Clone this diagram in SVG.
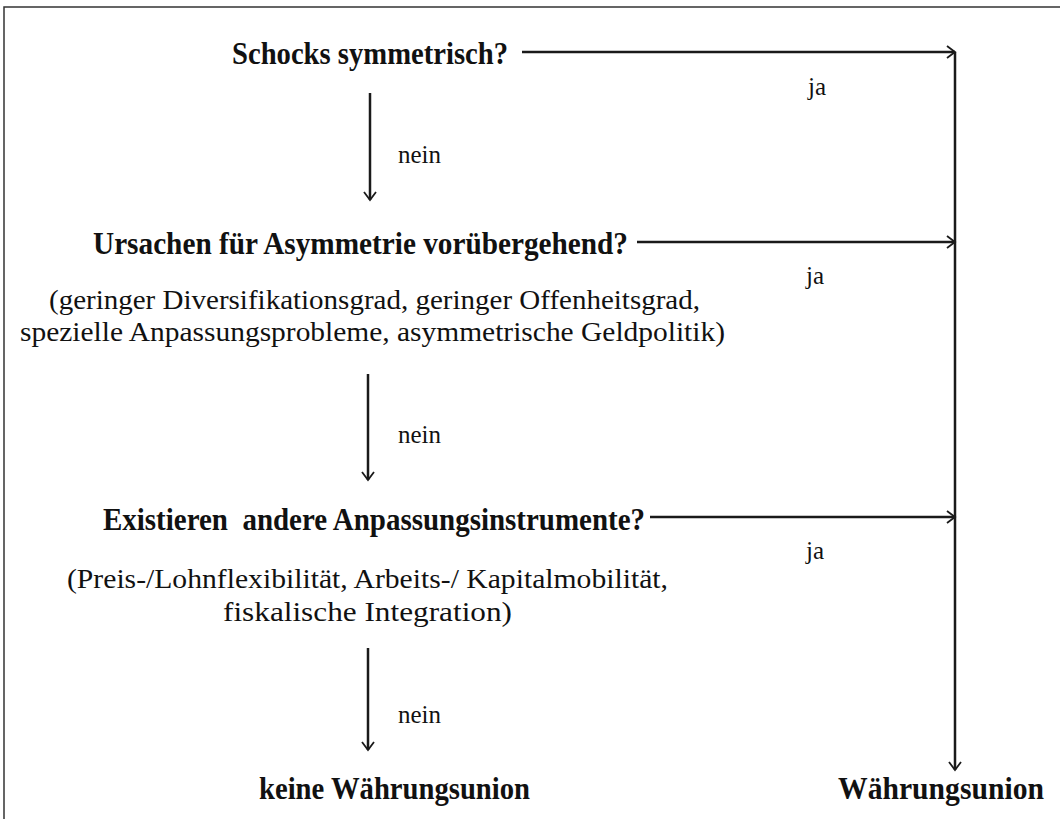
<svg xmlns="http://www.w3.org/2000/svg" width="1060" height="819" viewBox="0 0 1060 819">
<defs>
<marker id="arr" markerWidth="14" markerHeight="14" refX="10" refY="7" orient="auto" markerUnits="userSpaceOnUse">
<path d="M2,1 L10,7 L2,13" fill="none" stroke="#1a1a1a" stroke-width="1.8"/>
</marker>
<style>
.b{font-family:"Liberation Serif","Times New Roman",serif;font-weight:bold;font-size:31px;fill:#111;white-space:pre}
.r{font-family:"Liberation Serif","Times New Roman",serif;font-size:27px;fill:#111}
.s{font-family:"Liberation Serif","Times New Roman",serif;font-size:25px;fill:#111}
.ln{stroke:#1a1a1a;stroke-width:2.5;fill:none}
</style>
</defs>
<rect x="4" y="7" width="1070" height="830" fill="#fff" stroke="#333" stroke-width="1.5"/>
<g id="connectors">
<line class="ln" x1="522" y1="52" x2="955" y2="52" marker-end="url(#arr)"/>
<line class="ln" x1="955" y1="52" x2="955" y2="770" marker-end="url(#arr)"/>
<line class="ln" x1="637" y1="242" x2="955" y2="242" marker-end="url(#arr)"/>
<line class="ln" x1="650" y1="517" x2="955" y2="517" marker-end="url(#arr)"/>
<line class="ln" x1="370" y1="93" x2="370" y2="200" marker-end="url(#arr)"/>
<line class="ln" x1="368" y1="374" x2="368" y2="480" marker-end="url(#arr)"/>
<line class="ln" x1="368" y1="648" x2="368" y2="750" marker-end="url(#arr)"/>
<text class="s" x="808" y="95">ja</text>
<text class="s" x="806" y="284">ja</text>
<text class="s" x="806" y="559">ja</text>
<text class="s" x="398" y="163">nein</text>
<text class="s" x="398" y="443">nein</text>
<text class="s" x="398" y="723">nein</text>
</g>
<g id="n1">
<text class="b" x="232" y="64" textLength="276" lengthAdjust="spacingAndGlyphs">Schocks symmetrisch?</text>
</g>
<g id="n2">
<text class="b" x="93" y="254" textLength="535" lengthAdjust="spacingAndGlyphs">Ursachen für Asymmetrie vorübergehend?</text>
<text class="r" x="49" y="309" textLength="651" lengthAdjust="spacingAndGlyphs">(geringer Diversifikationsgrad, geringer Offenheitsgrad,</text>
<text class="r" x="20" y="341" textLength="705" lengthAdjust="spacingAndGlyphs">spezielle Anpassungsprobleme, asymmetrische Geldpolitik)</text>
</g>
<g id="n3">
<text class="b" x="103" y="530" textLength="542" lengthAdjust="spacingAndGlyphs" xml:space="preserve">Existieren  andere Anpassungsinstrumente?</text>
<text class="r" x="67" y="588" textLength="601" lengthAdjust="spacingAndGlyphs">(Preis-/Lohnflexibilität, Arbeits-/ Kapitalmobilität,</text>
<text class="r" x="223" y="621" textLength="289" lengthAdjust="spacingAndGlyphs">fiskalische Integration)</text>
</g>
<g id="n4">
<text class="b" x="259" y="799" textLength="271" lengthAdjust="spacingAndGlyphs">keine Währungsunion</text>
</g>
<g id="n5">
<text class="b" x="838" y="799" textLength="206" lengthAdjust="spacingAndGlyphs">Währungsunion</text>
</g>
</svg>
